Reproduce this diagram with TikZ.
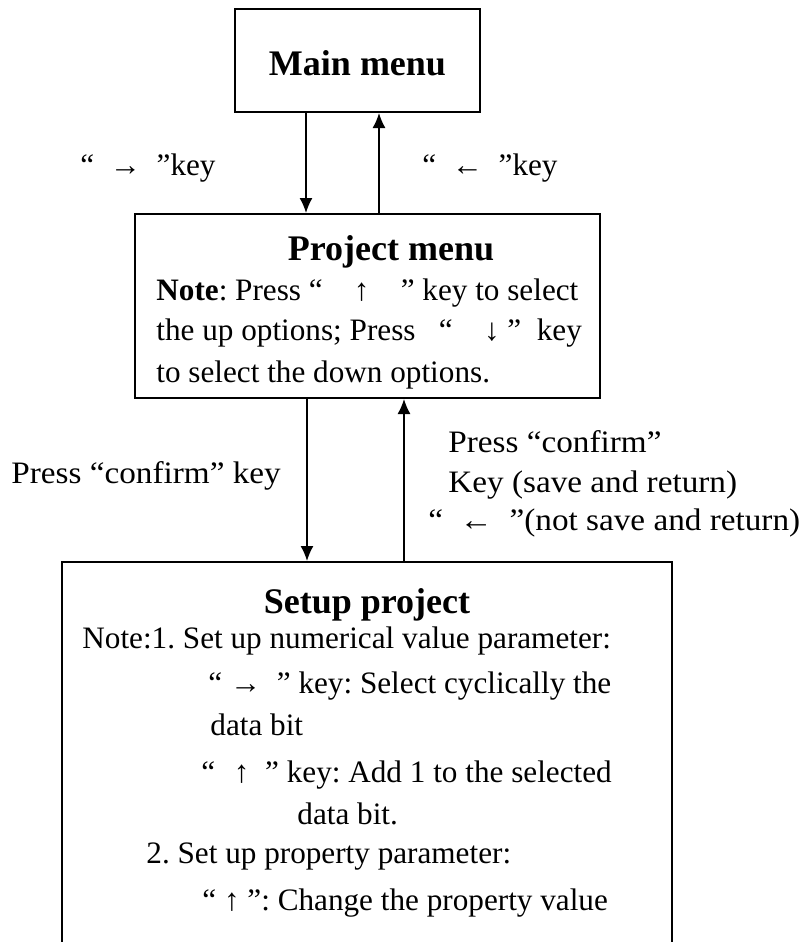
\documentclass[tikz,border=0pt]{standalone}
\usepackage{fontspec}
\setmainfont{Liberation Serif}
\newfontfamily\wideSerif{Liberation Serif}[FakeStretch=1.065]
\usepackage{tikz}
\usetikzlibrary{arrows.meta}
\tikzset{>={Latex[length=7.5pt,width=6.5pt]}}
\tikzset{
  menuBox/.style={shape=rectangle,draw=black,line width=1pt,inner sep=0pt},
  menuTitle/.style={font=\fontsize{18}{20}\selectfont\bfseries,inner sep=0pt,anchor=base},
  noteText/.style={font=\fontsize{15.6}{20}\selectfont,inner sep=0pt,anchor=base west},
  wideNote/.style={noteText,font=\wideSerif\fontsize{15.6}{20}\selectfont},
  keyLink/.style={draw=black,->,line width=0.75pt}
}
\frenchspacing

\begin{document}
\begin{tikzpicture}[x=0.5pt,y=-0.5pt]
  \clip (0,0) rectangle (808,942);

  \node[menuBox, minimum width=122.5pt, minimum height=51.5pt] (main) at (357.5,60.5) {};
  \node[menuBox, minimum width=232.5pt, minimum height=92pt] (proj) at (367.5,306) {};
  \node[menuBox, minimum width=305pt, minimum height=219pt] (setup) at (367,781) {};

  \node[menuTitle] (mainT) at (357.5,75) {Main menu};
  \node[menuTitle] (projT) at (391,260) {Project menu};
  \node[menuTitle] (setupT) at (367,613) {Setup project};

  % text in project menu
  \node[noteText] (p1) at (156,300) {\textbf{Note}: Press “\quad↑\quad” key to select};
  \node[noteText] (p2) at (156,340) {the up options; Press\ \enspace“\quad↓ ”\enspace key};
  \node[noteText] (p3) at (156,382) {to select the down options.};

  % text in setup project
  \node[noteText] (s1) at (82,648) {Note:1. Set up numerical value parameter:};
  \node[noteText] (s2) at (208,693) {“\ →\ \ ”\ key: Select cyclically the};
  \node[noteText] (s3) at (210,735) {data bit};
  \node[noteText] (s4) at (201,782) {“\hspace{0.6em}↑\hspace{0.5em}”\ key: Add 1 to the selected};
  \node[noteText] (s5) at (297,824) {data bit.};
  \node[noteText] (s6) at (146,863) {2. Set up property parameter:};
  \node[noteText] (s7) at (202,910) {“ ↑ ”: Change the property value};

  % key labels
  \node[noteText] (kRight) at (80,175) {“\ \ →\ \ ”key};
  \node[noteText] (kLeft) at (422,175) {“\ \ ←\ \ ”key};
  \node[wideNote] (kConf) at (11,483) {Press “confirm” key};
  \node[wideNote] (kSave1) at (448,452) {Press “confirm”};
  \node[wideNote] (kSave2) at (448,492) {Key (save and return)};
  \node[wideNote] (kSave3) at (428,530) {“\ \ ←\ \ ”(not save and return)};

  \coordinate (xA) at (306,0);
  \coordinate (xB) at (379,0);
  \coordinate (xC) at (307,0);
  \coordinate (xD) at (404,0);

  \path
    (main.south -| xA) edge [keyLink] (proj.north -| xA)
    (proj.north -| xB) edge [keyLink] (main.south -| xB)
    (proj.south -| xC) edge [keyLink] (setup.north -| xC)
    (setup.north -| xD) edge [keyLink] (proj.south -| xD);

\end{tikzpicture}
\end{document}
